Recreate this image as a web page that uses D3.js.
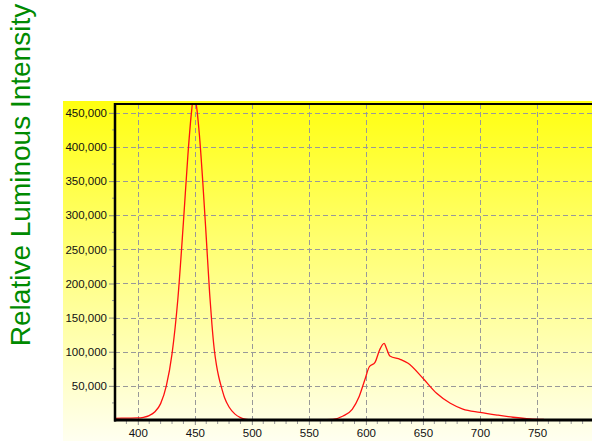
<!DOCTYPE html>
<html>
<head>
<meta charset="utf-8">
<script src="https://cdn.jsdelivr.net/npm/d3@7"></script>
<style>
  body { margin: 0; background: #fff; }
  svg { display: block; }
</style>
</head>
<body>
<svg id="chart" width="592" height="441"></svg>
<script>
// wavelength (nm) and relative intensity
const wavelengths = [380, 390, 400, 405, 410, 415, 420, 425, 430, 435, 440, 444, 447, 449, 451, 454, 457, 460, 463, 465, 467, 469, 471, 473, 476, 480, 485, 490, 494,
  500, 530, 560, 571, 580, 588, 594, 599, 603, 608, 612, 616, 618, 621, 630, 637, 650, 662, 674, 685, 700, 715, 729, 744, 756];
const intensity = [2500, 2800, 3000, 4000, 6500, 12000, 24000, 50000, 97000, 175000, 290000, 390000, 450000, 475000, 465000, 418000, 348000, 268000, 185000, 140000, 104000, 80000, 63000, 50000, 33000, 19000, 9000, 3500, 1200,
  300, 200, 300, 1000, 5900, 15700, 34000, 58600, 78000, 84500, 102600, 112400, 105000, 93800, 88900, 83100, 61100, 39100, 24500, 16100, 11300, 7300, 4000, 1500, 800];

const xTicks = [400, 450, 500, 550, 600, 650, 700, 750];
const yTicks = [50000, 100000, 150000, 200000, 250000, 300000, 350000, 400000, 450000];

const svg = d3.select("#chart");

const mLeft = 115, mRight = 594, mTop = 104, mBottom = 420;

const x = d3.scaleLinear().domain([380, 800]).range([mLeft, mRight]);
const y = d3.scaleLinear().domain([0, 463000]).range([mBottom, mTop]);

// background gradient
const grad = svg.append("defs").append("linearGradient")
  .attr("id", "bg").attr("x1", 0).attr("y1", 0).attr("x2", 0).attr("y2", 1);
grad.append("stop").attr("offset", "0%").attr("stop-color", "#ffff10");
grad.append("stop").attr("offset", "45%").attr("stop-color", "#ffff78");
grad.append("stop").attr("offset", "100%").attr("stop-color", "#fffff0");

svg.append("rect")
  .attr("x", 63).attr("y", 101)
  .attr("width", 592 - 63).attr("height", 441 - 101)
  .attr("fill", "url(#bg)");

svg.append("clipPath").attr("id", "plot")
  .append("rect").attr("x", mLeft).attr("y", mTop).attr("width", mRight - mLeft).attr("height", mBottom - mTop);

// grid
const grid = svg.append("g").attr("stroke", "#999").attr("stroke-width", 1).attr("stroke-dasharray", "5,3")
  .attr("shape-rendering", "crispEdges");
grid.selectAll(".gx").data(xTicks).join("line")
  .attr("x1", d => Math.round(x(d)) + 0.5).attr("x2", d => Math.round(x(d)) + 0.5)
  .attr("y1", mTop).attr("y2", mBottom);
grid.selectAll(".gy").data(yTicks).join("line")
  .attr("y1", d => Math.round(y(d)) + 0.5).attr("y2", d => Math.round(y(d)) + 0.5)
  .attr("x1", mLeft).attr("x2", mRight);

// spectrum
const line = d3.line().x((d, i) => x(wavelengths[i])).y(d => y(d)).curve(d3.curveMonotoneX);
svg.append("path")
  .datum(intensity)
  .attr("clip-path", "url(#plot)")
  .attr("fill", "none")
  .attr("stroke", "#ff1010")
  .attr("stroke-width", 1.3)
  .attr("d", line);

// axes
const xAxis = d3.axisBottom(x).tickValues(xTicks).tickSize(5).tickPadding(4).tickFormat(d3.format("d"));
const gx = svg.append("g").attr("transform", `translate(0,${mBottom})`).call(xAxis);
gx.select(".domain").remove();
gx.selectAll(".tick line").attr("stroke", "#888");
gx.selectAll("text").attr("font-family", "Liberation Sans, Arial, sans-serif").attr("font-size", 11.5).attr("fill", "#111");

const xMinor = d3.range(390, 800, 10).filter(d => d % 50 !== 0);
svg.append("g").selectAll("line").data(xMinor).join("line")
  .attr("x1", d => x(d)).attr("x2", d => x(d))
  .attr("y1", mBottom).attr("y2", mBottom + 4)
  .attr("stroke", "#999");

const yAxis = d3.axisLeft(y).tickValues(yTicks).tickSize(6).tickPadding(2).tickFormat(d3.format(","));
const gy = svg.append("g").attr("transform", `translate(${mLeft},0)`).call(yAxis);
gy.select(".domain").remove();
gy.selectAll(".tick line").attr("stroke", "#888");
gy.selectAll("text").attr("font-family", "Liberation Sans, Arial, sans-serif").attr("font-size", 11.5).attr("fill", "#111");

const yMinor = d3.range(25000, 463000, 50000);
svg.append("g").selectAll("line").data(yMinor).join("line")
  .attr("y1", d => y(d)).attr("y2", d => y(d))
  .attr("x1", mLeft - 3).attr("x2", mLeft)
  .attr("stroke", "#999");

// frame lines
svg.append("line").attr("x1", mLeft).attr("x2", mLeft).attr("y1", mTop - 1).attr("y2", mBottom + 1.5)
  .attr("stroke", "#000").attr("stroke-width", 2.5);
svg.append("line").attr("x1", mLeft - 1).attr("x2", 592).attr("y1", mBottom).attr("y2", mBottom)
  .attr("stroke", "#000").attr("stroke-width", 3);
svg.append("line").attr("x1", mLeft - 1).attr("x2", 592).attr("y1", mTop).attr("y2", mTop)
  .attr("stroke", "#000").attr("stroke-width", 2);

// y title
svg.append("text")
  .attr("transform", "translate(30,175) rotate(-90)")
  .attr("text-anchor", "middle")
  .attr("font-family", "Liberation Sans, Arial, sans-serif")
  .attr("font-size", 28)
  .attr("fill", "#008a00")
  .text("Relative Luminous Intensity");
</script>
</body>
</html>
